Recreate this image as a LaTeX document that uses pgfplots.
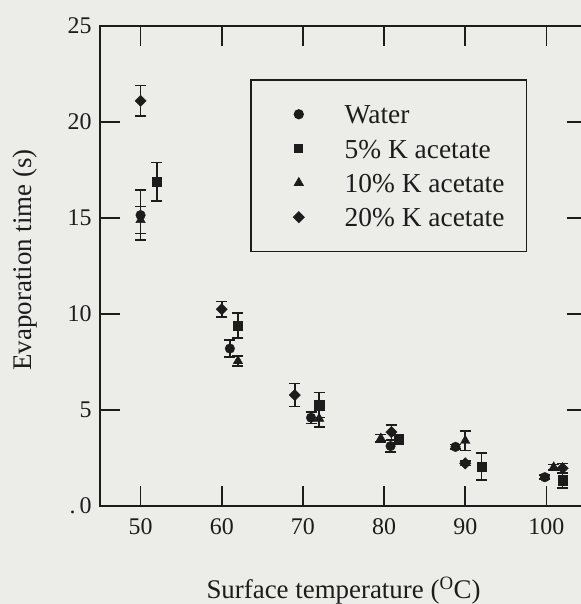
\documentclass[border=0pt]{standalone}
\usepackage{pgfplots}
\usepackage{pgfplotstable}
\pgfplotsset{compat=1.18}
\usepackage{fontspec}
\setmainfont{Liberation Serif}

\definecolor{paper}{RGB}{236,236,233}
\definecolor{ink}{RGB}{28,28,28}

% evaporation time (s) against surface temperature (C), with error half-widths
\pgfplotstableread{
x     y      e
50    15.15  1.30
61    8.20   0.45
71    4.60   0.30
80.8  3.12   0.30
88.8  3.08   0.12
99.8  1.50   0.10
}\water
\pgfplotstableread{
x     y      e
52    16.90  1.00
62    9.40   0.65
72    5.26   0.65
81.8  3.48   0.20
92    2.05   0.70
102   1.35   0.40
}\ksfive
\pgfplotstableread{
x     y      e
50    14.90  0.70
62    7.55   0.25
72    4.55   0.45
79.6  3.52   0.20
90    3.40   0.50
100.9 2.02   0.15
}\ksten
\pgfplotstableread{
x     y      e
50    21.10  0.80
60    10.25  0.40
69    5.78   0.60
80.9  3.85   0.38
90    2.22   0.12
102   1.97   0.25
}\kstwenty

\begin{document}
\begin{tikzpicture}[x=1bp,y=1bp]
\fill[paper] (-100,-98) rectangle (481,506);
\useasboundingbox (-100,-98) rectangle (481,506);
\begin{axis}[
  at={(0,0)}, anchor=south west,
  scale only axis, width=487bp, height=480bp,
  xmin=45, xmax=105, ymin=0, ymax=25,
  xtick={50,60,70,80,90,100},
  ytick={0,5,10,15,20,25},
  yticklabels={.\,0,5,10,15,20,25},
  tick align=inside,
  major tick length=20bp,
  axis line style={line width=1.8bp, ink},
  every tick/.style={line width=1.6bp, ink},
  /pgf/number format/assume math mode=true,
  tick label style={font=\fontsize{24}{28}\selectfont, text=ink},
  xticklabel style={yshift=-9bp},
  yticklabel style={xshift=-5bp},
  label style={font=\fontsize{27}{32}\selectfont, text=ink},
  xlabel={Surface temperature (\textsuperscript{O}C)},
  xlabel style={at={(rel axis cs:0.5,0)}, anchor=base, yshift=-92bp},
  ylabel={Evaporation time (s)},
  ylabel style={at={(rel axis cs:0,0.5)}, anchor=center, yshift=75bp, xshift=6bp},
  legend style={
    at={(rel axis cs:0.308,0.8896)}, anchor=north west,
    draw=ink, line width=1.6bp, fill=none,
    font=\fontsize{27.5}{32}\selectfont, text=ink,
    inner xsep=22bp, inner ysep=20bp, row sep=5.3bp,
    nodes={inner sep=0pt, text height=24bp, text depth=5bp},
    /tikz/every odd column/.append style={column sep=41bp},
  },
  legend cell align=left,
  legmark/.style={legend image code/.code={%
    \path[draw=none, fill=none] (-26bp,0bp) -- (0bp,0bp);
    \draw[mark repeat=2, mark phase=2, ##1] plot coordinates {(-1bp,0bp) (0bp,0bp) (1bp,0bp)};}},
  error bars/y dir=both, error bars/y explicit,
  error bars/error bar style={line width=1.6bp, ink},
  error bars/error mark options={rotate=90, mark size=5.5bp, line width=1.6bp, ink},
]
\addlegendimage{only marks, legmark, ink, mark=*, mark size=4.3bp}
\addlegendentry{Water}
\addlegendimage{only marks, legmark, ink, mark=square*, mark size=3.5bp}
\addlegendentry{5\% K acetate}
\addlegendimage{only marks, legmark, ink, mark=triangle*, mark size=4.5bp}
\addlegendentry{10\% K acetate}
\addlegendimage{only marks, legmark, ink, mark=square*, mark size=3.5bp, mark options={rotate=45}}
\addlegendentry{20\% K acetate}

\addplot[forget plot, only marks, ink, mark=*, mark size=4.8bp]
  table[x=x, y=y, y error=e] {\water};
\addplot[forget plot, only marks, ink, mark=square*, mark size=4.7bp]
  table[x=x, y=y, y error=e] {\ksfive};
\addplot[forget plot, only marks, ink, mark=triangle*, mark size=5.5bp]
  table[x=x, y=y, y error=e] {\ksten};
\addplot[forget plot, only marks, ink, mark=square*, mark size=4bp, mark options={rotate=45}]
  table[x=x, y=y, y error=e] {\kstwenty};
\end{axis}
\end{tikzpicture}
\end{document}
